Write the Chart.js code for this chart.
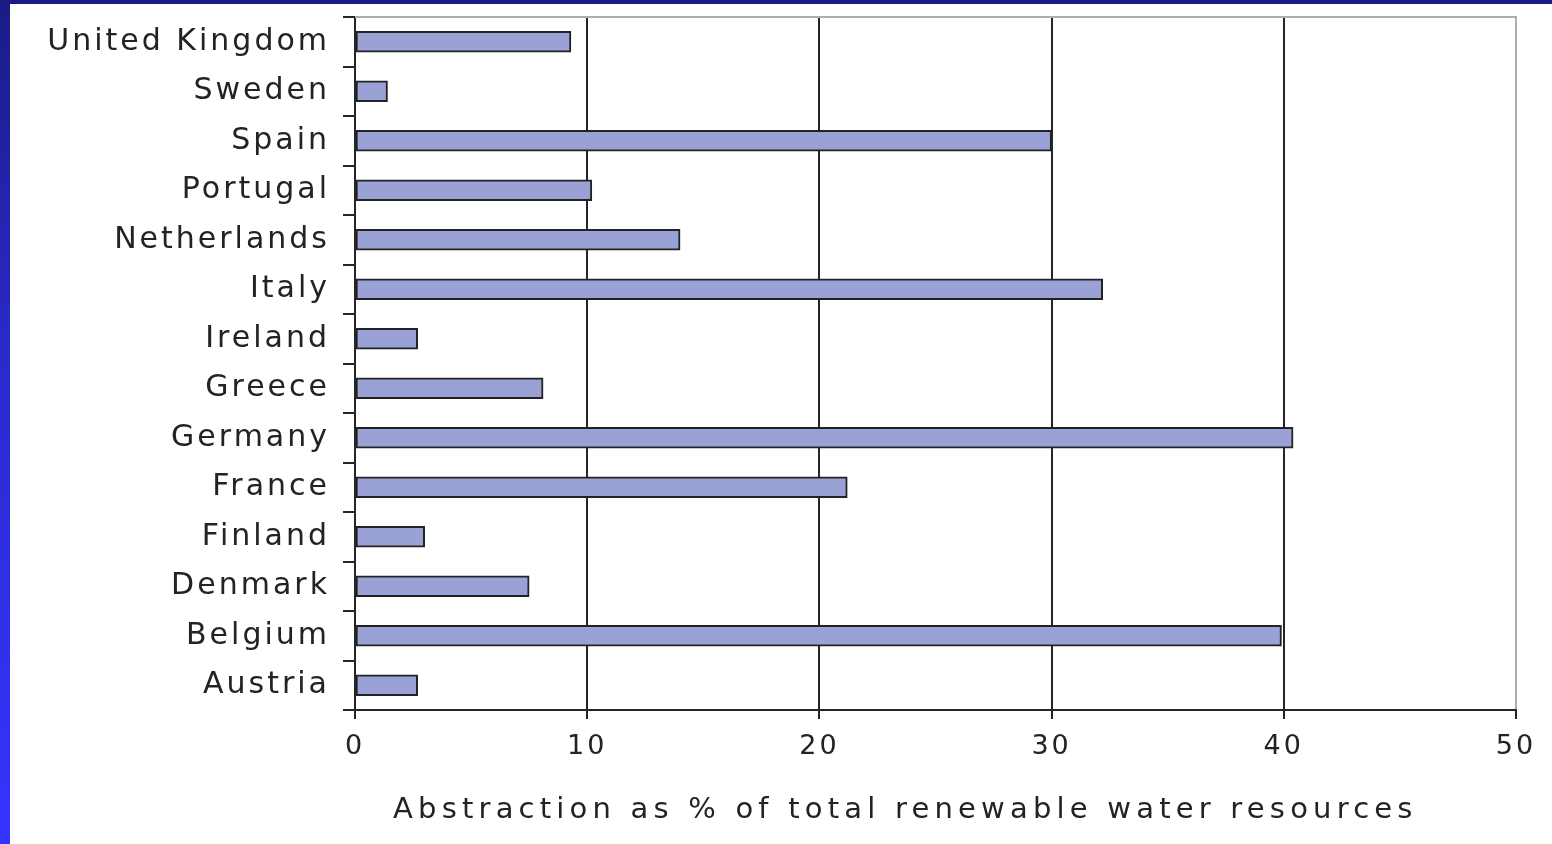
<!DOCTYPE html>
<html>
<head>
<meta charset="utf-8">
<title>Water abstraction</title>
<script src="https://cdn.jsdelivr.net/npm/chart.js@4/dist/chart.umd.min.js"></script>
<style>
  html, body { margin: 0; padding: 0; background: #ffffff; }
  #wrap { position: relative; width: 1552px; height: 844px; overflow: hidden; background: #ffffff; }
  #chart { position: absolute; left: 0; top: 0; }
  .edge-left { position: absolute; left: 0; top: 0; width: 10px; height: 844px;
    background: linear-gradient(to bottom, #1b1b86 0%, #2b2bd0 45%, #3434ff 100%); z-index: 2; }
  .edge-top { position: absolute; left: 0; top: 0; width: 1552px; height: 4px; background: #1b1b86; z-index: 3; }
</style>
</head>
<body>
<div id="wrap">
  <canvas id="chart" width="1552" height="844"></canvas>
  <div class="edge-left"></div>
  <div class="edge-top"></div>
</div>
<script>
// Countries, top to bottom
const countries = ['United Kingdom', 'Sweden', 'Spain', 'Portugal', 'Netherlands', 'Italy', 'Ireland',
  'Greece', 'Germany', 'France', 'Finland', 'Denmark', 'Belgium', 'Austria'];
// Abstraction as % of total renewable water resources
const abstraction = [9.3, 1.4, 30.0, 10.2, 14.0, 32.2, 2.7, 8.1, 40.4, 21.2, 3.0, 7.5, 39.9, 2.7];
// Value axis ticks
const xTickValues = [0, 10, 20, 30, 40, 50];
const xTitle = 'Abstraction as % of total renewable water resources';

const FONT = '"DejaVu Sans", Verdana, sans-serif';
const INK = '#232323';
const GRID = '#262626';
const FRAME = '#a9aeb4';

// Letter spacing and the grey frame along the top of the plot
const framePlugin = {
  id: 'framePlugin',
  beforeDraw(chart) {
    chart.ctx.letterSpacing = '0px';
  },
  afterDatasetsDraw(chart) {
    const { ctx, chartArea } = chart;
    ctx.save();
    ctx.strokeStyle = FRAME;
    ctx.lineWidth = 2;
    ctx.beginPath();
    ctx.moveTo(chartArea.left, chartArea.top);
    ctx.lineTo(chartArea.right + 1, chartArea.top);
    ctx.stroke();
    ctx.restore();
    ctx.letterSpacing = '3px';
  },
  afterDraw(chart) {
    const { ctx, chartArea } = chart;
    ctx.save();
    ctx.letterSpacing = '5.2px';
    ctx.font = '29px ' + FONT;
    ctx.fillStyle = INK;
    ctx.textAlign = 'left';
    ctx.textBaseline = 'alphabetic';
    ctx.fillText(xTitle, chartArea.left + 38, chartArea.bottom + 108);
    ctx.restore();
    ctx.letterSpacing = '0px';
  }
};

new Chart(document.getElementById('chart'), {
  type: 'bar',
  data: {
    labels: countries,
    datasets: [{
      data: abstraction,
      backgroundColor: '#9aa1d4',
      borderColor: '#222222',
      borderWidth: 2,
      borderSkipped: false,
      barThickness: 21
    }]
  },
  plugins: [framePlugin],
  options: {
    indexAxis: 'y',
    responsive: false,
    animation: false,
    layout: { padding: { left: 0, top: 17, right: 36, bottom: 0 } },
    plugins: {
      legend: { display: false },
      tooltip: { enabled: false },
      title: { display: false }
    },
    scales: {
      x: {
        type: 'linear',
        min: 0,
        max: 50,
        afterBuildTicks(scale) {
          scale.ticks = xTickValues.map(v => ({ value: v }));
        },
        afterFit(scale) {
          scale.height = 134;
          scale.paddingLeft = 0;
          scale.paddingRight = 0;
        },
        grid: {
          drawOnChartArea: true,
          drawTicks: true,
          tickLength: 9,
          lineWidth: 2,
          color: ctx => (ctx.tick && ctx.tick.value === 50 ? FRAME : GRID),
          tickColor: GRID
        },
        border: { display: true, color: GRID, width: 2 },
        ticks: {
          z: 1,
          padding: 12,
          color: INK,
          font: { family: FONT, size: 27 },
          maxRotation: 0,
          callback: v => String(v)
        }
      },
      y: {
        type: 'category',
        offset: true,
        afterFit(scale) {
          scale.width = 355;
          scale.paddingTop = 0;
          scale.paddingBottom = 0;
        },
        grid: {
          offset: true,
          drawOnChartArea: false,
          drawTicks: true,
          tickLength: 12,
          lineWidth: 2,
          color: GRID,
          tickColor: GRID
        },
        border: { display: true, color: GRID, width: 2 },
        ticks: {
          z: 1,
          padding: 13,
          color: INK,
          font: { family: FONT, size: 30 },
          autoSkip: false
        }
      }
    }
  }
});
</script>
</body>
</html>
